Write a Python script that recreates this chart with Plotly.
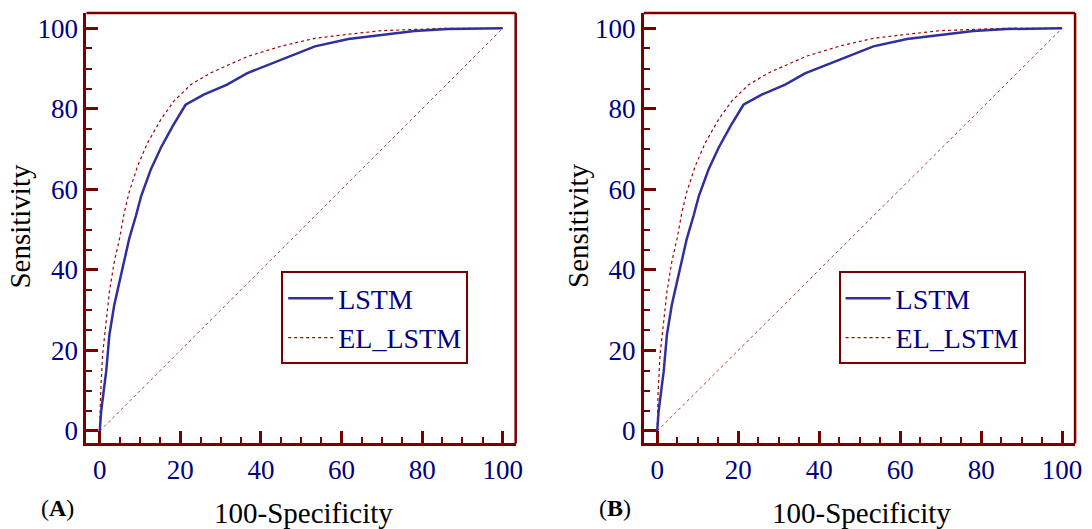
import plotly.graph_objects as go

# ---- data ----
lstm_fpr = [0, 0.35, 1.6, 2.4, 3.6, 4.9, 6.1, 7.3, 9.0, 10.3, 12.7, 15.2, 18.1, 21.3,
            25.8, 31.6, 36.5, 45.2, 53.4, 61.7, 69.9, 78.1, 86.3, 94.6, 100]
lstm_tpr = [0, 4.9, 14.8, 23.9, 31.3, 37.0, 42.8, 47.7, 53.5, 58.4, 65.0, 70.4, 75.7, 81.0,
            83.5, 86.0, 88.8, 92.3, 95.5, 97.3, 98.3, 99.3, 99.8, 99.9, 100]
el_fpr = [0, 0.2, 0.7, 1.6, 2.4, 3.6, 4.9, 6.1, 7.3, 9.4, 11.9, 15.2, 18.4, 22.6,
          27.5, 33.3, 37.0, 45.2, 53.4, 61.7, 69.9, 78.1, 86.3, 100]
el_tpr = [0, 9.0, 18.9, 27.2, 34.6, 42.0, 47.7, 54.3, 59.3, 65.8, 71.6, 77.4, 81.9, 86.0,
          88.9, 91.5, 93.1, 95.6, 97.5, 98.5, 99.4, 99.7, 100, 100]
diag = [0, 100]
panels = ["(<b>A</b>)", "(<b>B</b>)"]
series_names = ["LSTM", "EL_LSTM"]
x_title = "100-Specificity"
y_title = "Sensitivity"

W, H = 1092, 529
FRAME = "#7a0000"
NAVY = "#000080"
FONT = "Liberation Serif"

fig = go.Figure()

frames = [(87, 519), (648, 1082)]
top_px, bot_px = 13, 446
ydom = [1 - bot_px / H, 1 - top_px / H]

for i, (l, r) in enumerate(frames):
    xa = "x" if i == 0 else "x2"
    ya = "y" if i == 0 else "y2"
    leg = "legend" if i == 0 else "legend2"
    fig.add_trace(go.Scatter(x=diag, y=diag, mode="lines", xaxis=xa, yaxis=ya,
                             line=dict(color="#b04040", width=1, dash="dot"),
                             showlegend=False, hoverinfo="skip"))
    fig.add_trace(go.Scatter(x=el_fpr, y=el_tpr, mode="lines", xaxis=xa, yaxis=ya,
                             name=series_names[1], legend=leg, legendrank=2,
                             line=dict(color="#a00000", width=1.2, dash="dot")))
    fig.add_trace(go.Scatter(x=lstm_fpr, y=lstm_tpr, mode="lines", xaxis=xa, yaxis=ya,
                             name=series_names[0], legend=leg, legendrank=1,
                             line=dict(color="#30309c", width=2.5)))

    axcommon = dict(showgrid=False, zeroline=False, showline=True, linecolor=FRAME,
                    linewidth=3, mirror=False, ticks="inside", ticklen=12, tickwidth=3,
                    tickcolor=FRAME, tick0=0, dtick=20,
                    tickfont=dict(family=FONT, size=27, color=NAVY),
                    minor=dict(ticks="inside", ticklen=6, tickwidth=2, tickcolor=FRAME, dtick=5, tick0=0))
    xkey = "xaxis" if i == 0 else "xaxis2"
    ykey = "yaxis" if i == 0 else "yaxis2"
    fig.update_layout({
        xkey: dict(axcommon, domain=[l / W, r / W], range=[-3.3, 103.2], anchor=ya),
        ykey: dict(axcommon, domain=ydom, range=[-3.1, 103.8], anchor=xa),
    })
    fig.add_shape(type="line", xref=f"{xa} domain", yref=f"{ya} domain", x0=0, x1=1, y0=1, y1=1,
                  line=dict(color=FRAME, width=2.5))
    fig.add_shape(type="line", xref=f"{xa} domain", yref=f"{ya} domain", x0=1, x1=1, y0=0, y1=1,
                  line=dict(color=FRAME, width=2.5))
    fig.add_annotation(x=(l + r) / 2 / W + 0.002, y=1 - 516 / H, xref="paper", yref="paper",
                       text=x_title, showarrow=False, xanchor="center", yanchor="middle",
                       font=dict(family=FONT, size=29, color="black"))
    fig.add_annotation(x=(l - 67) / W, y=1 - 227 / H, xref="paper", yref="paper",
                       text=y_title, showarrow=False, textangle=-90, xanchor="center", yanchor="middle",
                       font=dict(family=FONT, size=29, color="black"))
    fig.add_annotation(x=(l - 29) / W, y=1 - 511 / H, xref="paper", yref="paper",
                       text=panels[i], showarrow=False, xanchor="center", yanchor="middle",
                       font=dict(family=FONT, size=24, color="black"))

legstyle = dict(font=dict(family=FONT, size=28, color=NAVY), bordercolor=FRAME, borderwidth=2,
                bgcolor="white", xanchor="left", yanchor="top", traceorder="normal",
                tracegroupgap=0, itemwidth=45)
fig.update_layout(
    legend=dict(legstyle, x=283 / W, y=1 - 273 / H),
    legend2=dict(legstyle, x=844 / W, y=1 - 273 / H),
)

fig.update_layout(width=W, height=H, margin=dict(l=0, r=0, t=0, b=0),
                  plot_bgcolor="white", paper_bgcolor="white")
fig.write_html("out.html")
